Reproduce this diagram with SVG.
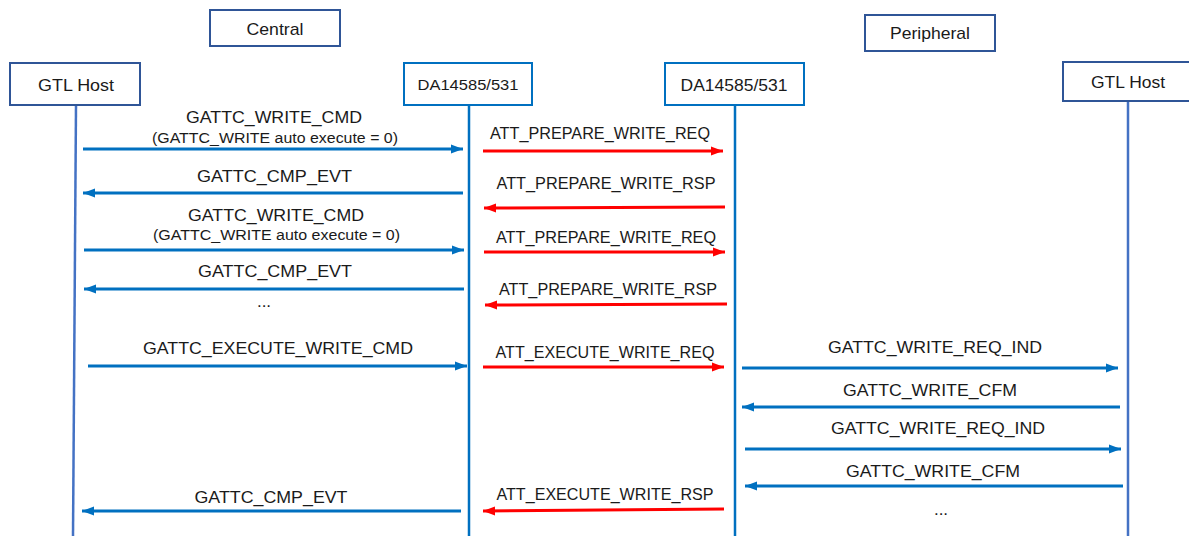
<svg xmlns="http://www.w3.org/2000/svg" width="1189" height="536" viewBox="0 0 1189 536">
<style>
.box{fill:#fff;stroke:#2F5597;stroke-width:2}
.dbox{fill:#fff;stroke:#0070C0;stroke-width:2}
text{font-family:"Liberation Sans",Arial,sans-serif;fill:#1a1a1a;text-anchor:middle}
.t{font-size:17px}
.s{font-size:15.5px}
.bl{stroke:#0070C0;stroke-width:3;fill:none;marker-end:url(#ab)}
.rd{stroke:#FF0000;stroke-width:3;fill:none;marker-end:url(#ar)}
.life{stroke-width:2.5;fill:none}
</style>
<defs>
<marker id="ab" markerUnits="userSpaceOnUse" markerWidth="13" markerHeight="10" refX="12" refY="5" orient="auto"><path d="M0,0.5 L12,5 L0,9.5 z" fill="#0070C0"/></marker>
<marker id="ar" markerUnits="userSpaceOnUse" markerWidth="13" markerHeight="10" refX="12" refY="5" orient="auto"><path d="M0,0.5 L12,5 L0,9.5 z" fill="#FF0000"/></marker>
</defs>
<g id="lifelines">
<line class="life" x1="76" y1="105" x2="73" y2="536" stroke="#4472C4"/>
<line class="life" x1="469" y1="105" x2="469" y2="536" stroke="#0070C0"/>
<line class="life" x1="735" y1="105" x2="735" y2="536" stroke="#0070C0"/>
<line class="life" x1="1128" y1="101" x2="1128" y2="536" stroke="#4472C4"/>
</g>
<g id="central"><rect class="box" x="210" y="10" width="130" height="36"/><text class="t" x="275" y="35" textLength="57" lengthAdjust="spacingAndGlyphs">Central</text></g>
<g id="peripheral"><rect class="box" x="865" y="15" width="130" height="36"/><text class="t" x="930" y="39" textLength="80" lengthAdjust="spacingAndGlyphs">Peripheral</text></g>
<g id="gtl-left"><rect class="box" x="10" y="63" width="130" height="42"/><text class="t" x="76" y="91" textLength="76" lengthAdjust="spacingAndGlyphs">GTL Host</text></g>
<g id="da-left"><rect class="dbox" x="404" y="63" width="128" height="42"/><text x="468" y="90" style="font-size:15.5px" textLength="101" lengthAdjust="spacingAndGlyphs">DA14585/531</text></g>
<g id="da-right"><rect class="dbox" x="665" y="63" width="139" height="42"/><text class="t" x="734" y="91" textLength="107" lengthAdjust="spacingAndGlyphs">DA14585/531</text></g>
<g id="gtl-right"><rect class="box" x="1063" y="62" width="128" height="39"/><text class="t" x="1128" y="88" textLength="74" lengthAdjust="spacingAndGlyphs">GTL Host</text></g>
<g id="connectors">
<line class="bl" x1="83" y1="149" x2="463" y2="149"/>
<line class="bl" x1="463" y1="193" x2="83" y2="193"/>
<line class="bl" x1="84" y1="250" x2="464" y2="250"/>
<line class="bl" x1="464" y1="289" x2="84" y2="289"/>
<line class="bl" x1="88" y1="366" x2="467" y2="366"/>
<line class="bl" x1="461" y1="511" x2="82" y2="511"/>
<line class="rd" x1="483" y1="151" x2="723" y2="151"/>
<line class="rd" x1="725" y1="207" x2="484" y2="208"/>
<line class="rd" x1="484" y1="252" x2="725" y2="252"/>
<line class="rd" x1="727" y1="304" x2="485" y2="305"/>
<line class="rd" x1="483" y1="367" x2="724" y2="367"/>
<line class="rd" x1="724" y1="509" x2="483" y2="511"/>
<line class="bl" x1="742" y1="368" x2="1118" y2="368"/>
<line class="bl" x1="1120" y1="407" x2="742" y2="407"/>
<line class="bl" x1="745" y1="449" x2="1121" y2="449"/>
<line class="bl" x1="1123" y1="486" x2="745" y2="486"/>
</g>
<g id="labels">
<text class="t" x="274" y="123" textLength="176" lengthAdjust="spacingAndGlyphs">GATTC_WRITE_CMD</text>
<text class="s" x="275" y="143" textLength="246" lengthAdjust="spacingAndGlyphs">(GATTC_WRITE auto execute = 0)</text>
<text class="t" x="274.5" y="182" textLength="155" lengthAdjust="spacingAndGlyphs">GATTC_CMP_EVT</text>
<text class="t" x="276" y="221" textLength="176" lengthAdjust="spacingAndGlyphs">GATTC_WRITE_CMD</text>
<text class="s" x="276.5" y="240" textLength="247" lengthAdjust="spacingAndGlyphs">(GATTC_WRITE auto execute = 0)</text>
<text class="t" x="275" y="277" textLength="154" lengthAdjust="spacingAndGlyphs">GATTC_CMP_EVT</text>
<text class="t" x="264" y="307">...</text>
<text class="t" x="278" y="354" textLength="270" lengthAdjust="spacingAndGlyphs">GATTC_EXECUTE_WRITE_CMD</text>
<text class="t" x="271" y="503" textLength="153" lengthAdjust="spacingAndGlyphs">GATTC_CMP_EVT</text>
<text class="t" x="600" y="139" textLength="220" lengthAdjust="spacingAndGlyphs">ATT_PREPARE_WRITE_REQ</text>
<text class="t" x="606" y="189" textLength="219" lengthAdjust="spacingAndGlyphs">ATT_PREPARE_WRITE_RSP</text>
<text class="t" x="606" y="243" textLength="220" lengthAdjust="spacingAndGlyphs">ATT_PREPARE_WRITE_REQ</text>
<text class="t" x="608" y="295" textLength="218" lengthAdjust="spacingAndGlyphs">ATT_PREPARE_WRITE_RSP</text>
<text class="t" x="605" y="358" textLength="219" lengthAdjust="spacingAndGlyphs">ATT_EXECUTE_WRITE_REQ</text>
<text class="t" x="605" y="500" textLength="217" lengthAdjust="spacingAndGlyphs">ATT_EXECUTE_WRITE_RSP</text>
<text class="t" x="935" y="353" textLength="214" lengthAdjust="spacingAndGlyphs">GATTC_WRITE_REQ_IND</text>
<text class="t" x="930" y="396" textLength="174" lengthAdjust="spacingAndGlyphs">GATTC_WRITE_CFM</text>
<text class="t" x="938" y="434" textLength="214" lengthAdjust="spacingAndGlyphs">GATTC_WRITE_REQ_IND</text>
<text class="t" x="933" y="477" textLength="174" lengthAdjust="spacingAndGlyphs">GATTC_WRITE_CFM</text>
<text class="t" x="941" y="515">...</text>
</g>
</svg>
